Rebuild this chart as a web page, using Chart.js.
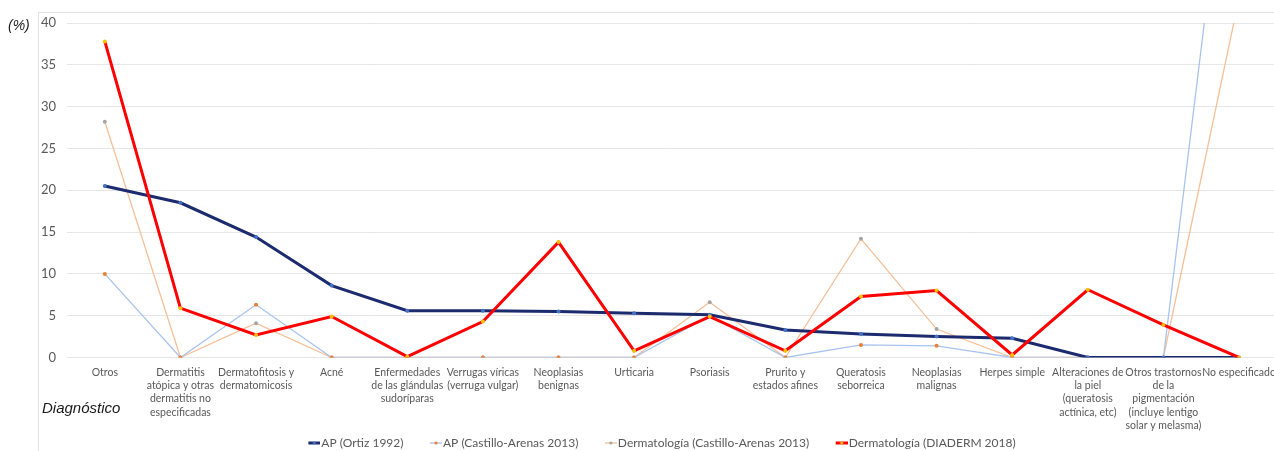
<!DOCTYPE html>
<html>
<head>
<meta charset="utf-8">
<script src="https://cdn.jsdelivr.net/npm/chart.js@4.4.1/dist/chart.umd.min.js"></script>
<style>
    html, body { margin: 0; padding: 0; background: #fff; overflow: hidden; }
    #wrap { position: relative; width: 1274px; height: 451px; overflow: hidden; }
    #frame { position: absolute; left: 38px; top: 12px; width: 1300px; height: 500px;
             border-left: 1px solid #e2e2e2; border-top: 1px solid #e2e2e2; }
    #box { position: absolute; left: 0; top: 0; width: 1284px; height: 459px; }
    .axtitle { position: absolute; font-family: "Liberation Sans", Arial, sans-serif;
               font-style: italic; color: #1a1a1a; line-height: 1; white-space: nowrap; }
</style>
</head>
<body>
<div id="wrap">
    <div id="frame"></div>
    <div id="box"><canvas id="chart-area"></canvas></div>
    <span class="axtitle" style="left:8px; top:18px; font-size:14px;">(%)</span>
    <span class="axtitle" style="left:42px; top:400px; font-size:15px;">Diagnóstico</span>
</div>
<script>
// categories (x axis, one array per multi-line label)
var diagnosticos = [
    ["Otros"],
    ["Dermatitis", "atópica y otras", "dermatitis no", "especificadas"],
    ["Dermatofitosis y", "dermatomicosis"],
    ["Acné"],
    ["Enfermedades", "de las glándulas", "sudoríparas"],
    ["Verrugas víricas", "(verruga vulgar)"],
    ["Neoplasias", "benignas"],
    ["Urticaria"],
    ["Psoriasis"],
    ["Prurito y", "estados afines"],
    ["Queratosis", "seborreica"],
    ["Neoplasias", "malignas"],
    ["Herpes simple"],
    ["Alteraciones de", "la piel", "(queratosis", "actínica, etc)"],
    ["Otros trastornos", "de la", "pigmentación", "(incluye lentigo", "solar y melasma)"],
    ["No especificado"]
];

var seriesNames = [
    "AP (Ortiz 1992)",
    "AP (Castillo-Arenas 2013)",
    "Dermatología (Castillo-Arenas 2013)",
    "Dermatología (DIADERM 2018)"
];

// values in %
var apOrtiz1992 = [20.5, 18.5, 14.4, 8.6, 5.6, 5.6, 5.5, 5.3, 5.1, 3.3, 2.8, 2.5, 2.3, 0, 0, 0];
var apCastillo2013 = [10, 0, 6.3, 0, 0, 0, 0, 0, 5.0, 0, 1.5, 1.4, 0, 0, 0, 74];
var dermCastillo2013 = [28.2, 0, 4.1, 0, 0, 0, 0, 0, 6.6, 0, 14.2, 3.4, 0, 0, 0, 43];
var dermDiaderm2018 = [37.8, 5.9, 2.7, 4.9, 0.1, 4.3, 13.8, 0.8, 4.9, 0.8, 7.3, 8.0, 0.3, 8.1, 3.9, 0];

var yTicks = [0, 5, 10, 15, 20, 25, 30, 35, 40];

var lineColors = ["#1c2a6e", "#a9c3ee", "#f5bf98", "#ff0000"];
var markerColors = ["#4472c4", "#ed7d31", "#a5a5a5", "#ffc000"];
var lineWidths = [3, 1.3, 1.3, 3];
var drawOrder = [1, 2, 3, 0];

// line + dot picture for the legend, blank on the left gives the gap between items
function legendMark(i) {
    var c = document.createElement("canvas");
    c.width = 38;
    c.height = 8;
    var g = c.getContext("2d");
    g.strokeStyle = lineColors[i];
    g.lineWidth = lineWidths[i];
    g.beginPath();
    g.moveTo(26, 4);
    g.lineTo(38, 4);
    g.stroke();
    g.fillStyle = markerColors[i];
    g.beginPath();
    g.arc(32, 4, 1.6, 0, Math.PI * 2);
    g.fill();
    return c;
}

Chart.defaults.font.family = "Lato, 'Liberation Sans', sans-serif";
Chart.defaults.color = "#595959";

var allData = [apOrtiz1992, apCastillo2013, dermCastillo2013, dermDiaderm2018];
var datasets = [];
for (var i = 0; i < allData.length; i++) {
    datasets.push({
        label: seriesNames[i],
        data: allData[i],
        borderColor: lineColors[i],
        backgroundColor: lineColors[i],
        borderWidth: lineWidths[i],
        pointRadius: 2,
        pointBorderWidth: 0,
        pointBackgroundColor: markerColors[i],
        pointHoverRadius: 2,
        tension: 0,
        fill: false,
        order: drawOrder[i]
    });
}

var ctx = document.getElementById("chart-area").getContext("2d");
var myGraph = new Chart(ctx, {
    type: "line",
    data: {
        labels: diagnosticos,
        datasets: datasets
    },
    options: {
        responsive: true,
        maintainAspectRatio: false,
        animation: false,
        layout: {
            padding: { top: 23, right: 5, left: 24, bottom: 0 }
        },
        plugins: {
            tooltip: { enabled: false },
            legend: {
                position: "bottom",
                labels: {
                    usePointStyle: true,
                    pointStyleWidth: 28,
                    padding: 5.5,
                    color: "#595959",
                    font: { size: 12 },
                    sort: function (a, b) { return a.datasetIndex - b.datasetIndex; },
                    generateLabels: function (chart) {
                        var items = Chart.defaults.plugins.legend.labels.generateLabels(chart);
                        items.forEach(function (it) {
                            it.pointStyle = legendMark(it.datasetIndex);
                        });
                        return items;
                    }
                }
            }
        },
        scales: {
            x: {
                offset: true,
                grid: { display: false, drawTicks: false },
                border: { display: false },
                ticks: {
                    autoSkip: false,
                    maxRotation: 0,
                    minRotation: 0,
                    padding: 8,
                    color: "#595959",
                    font: { size: 10.5, lineHeight: 1.27 }
                },
                afterFit: function (scale) { scale.height = 74; }
            },
            y: {
                min: 0,
                max: 40,
                afterBuildTicks: function (scale) {
                    scale.ticks = yTicks.map(function (v) { return { value: v }; });
                },
                grid: { color: "#e6e6e6", drawTicks: false },
                border: { display: false },
                ticks: {
                    padding: 11,
                    color: "#595959",
                    font: { size: 13 }
                },
                afterFit: function (scale) { scale.width = 43; }
            }
        }
    }
});
</script>
</body>
</html>
